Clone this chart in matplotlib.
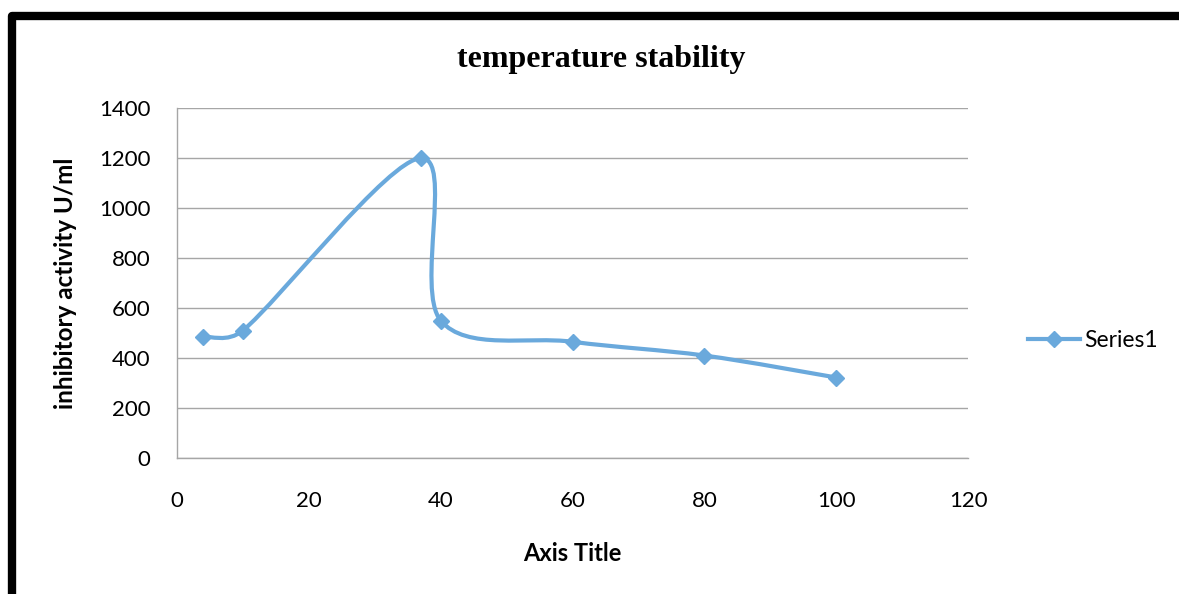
import numpy as np
import matplotlib.pyplot as plt
from matplotlib.lines import Line2D
from matplotlib.path import Path
from matplotlib.patches import PathPatch

temperature = [4, 10, 37, 40, 60, 80, 100]
activity = [485, 510, 1200, 550, 465, 410, 322]
x_ticks = [0, 20, 40, 60, 80, 100, 120]
y_ticks = [0, 200, 400, 600, 800, 1000, 1200, 1400]

blue = '#6aa9dc'
sans = ['Lato', 'DejaVu Sans']


def clamp(v, limit):
    n = np.hypot(*v)
    if n > limit:
        return v * limit / n
    return v


def smooth_path(ax, xs, ys):
    """Excel-like smoothed line: cubic Bezier through the points, in screen space."""
    pts = ax.transData.transform(np.column_stack([xs, ys]))
    n = len(pts)
    verts = [pts[0]]
    codes = [Path.MOVETO]
    for i in range(n - 1):
        p0 = pts[i - 1] if i > 0 else pts[i]
        p1 = pts[i]
        p2 = pts[i + 1]
        p3 = pts[i + 2] if i + 2 < n else pts[i + 1]
        seg = 0.5 * np.hypot(*(p2 - p1))
        c1 = p1 + clamp((p2 - p0) / 6.0, seg)
        c2 = p2 - clamp((p3 - p1) / 6.0, seg)
        verts += [c1, c2, p2]
        codes += [Path.CURVE4] * 3
    verts = ax.transData.inverted().transform(np.array(verts))
    return Path(verts, codes)


fig = plt.figure(figsize=(11.79, 5.94), dpi=100)
ax = fig.add_axes([0.1501, 0.229, 0.671, 0.589])

ax.set_xlim(0, 120)
ax.set_ylim(0, 1400)
ax.set_xticks(x_ticks)
ax.set_yticks(y_ticks)
ax.yaxis.grid(True, color='#a6a6a6', linewidth=1.0)
ax.set_axisbelow(True)
for side in ['top', 'right']:
    ax.spines[side].set_visible(False)
for side in ['left', 'bottom']:
    ax.spines[side].set_color('#a6a6a6')
    ax.spines[side].set_linewidth(1.0)
ax.tick_params(length=0, labelsize=16)
ax.tick_params(axis='y', pad=19)
ax.tick_params(axis='x', pad=24)
for lab in ax.get_xticklabels() + ax.get_yticklabels():
    lab.set_family(sans)

fig.canvas.draw()
patch = PathPatch(smooth_path(ax, temperature, activity), facecolor='none',
                  edgecolor=blue, linewidth=3.0, capstyle='round', zorder=3)
ax.add_patch(patch)
ax.plot(temperature, activity, linestyle='none', marker='D', markersize=8.5,
        color=blue, zorder=4)

ax.set_xlabel('Axis Title', fontsize=17, fontweight='bold', family=sans, labelpad=22)
ax.set_ylabel('inhibitory activity U/ml', fontsize=17.5, fontweight='bold', family=sans,
              labelpad=16)
fig.text(0.51, 0.9, 'temperature stability', ha='center', va='center',
         fontsize=23, fontweight='bold', family='Liberation Serif')

handle = Line2D([], [], color=blue, linewidth=3.0, marker='D', markersize=8.5)
fig.legend([handle], ['Series1'], loc='center left', bbox_to_anchor=(0.858, 0.426),
           frameon=False, prop={'family': sans, 'size': 16.5}, handlelength=2.3,
           handletextpad=0.15, borderpad=0.2)

# thick black frame, top and left edges
frame = Line2D([0.0102, 0.0102, 1.0], [0.0, 0.973, 0.973], transform=fig.transFigure,
               color='black', linewidth=6, solid_joinstyle='round')
fig.add_artist(frame)

fig.savefig('out.png', dpi=100)
